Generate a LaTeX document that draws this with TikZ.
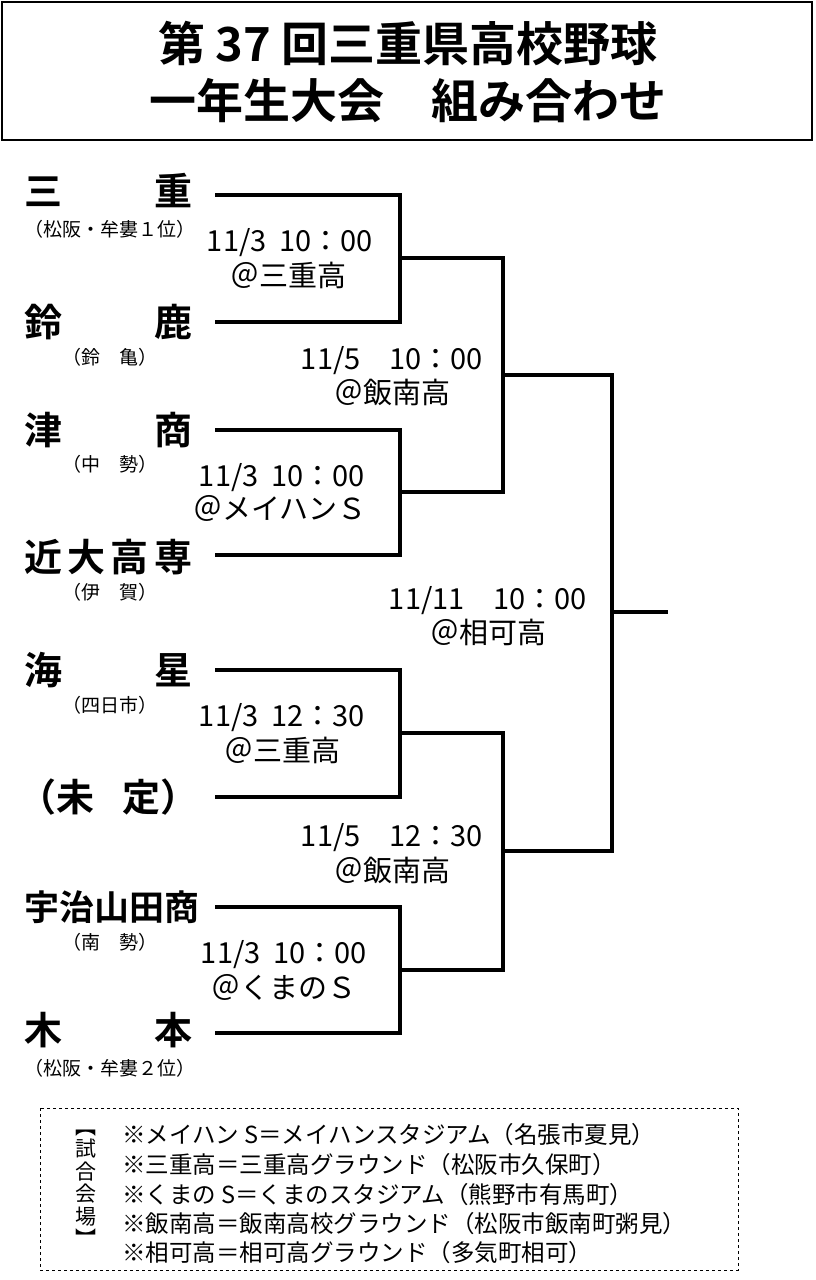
\documentclass[tikz,border=0pt]{standalone}
\usepackage{fontspec}
\setmainfont{Noto Sans CJK JP}[BoldFont={* Bold}]
\usetikzlibrary{positioning}
\usetikzlibrary{calc}
\tikzset{%
  team/.style = {anchor=west,inner sep=0pt,font=\bfseries\fontsize{38}{40}\selectfont},
  area/.style = {inner sep=0pt,font=\fontsize{19}{22}\selectfont},
  game/.style = {inner sep=0pt,font=\fontsize{29}{30}\selectfont},
  note/.style = {anchor=west,inner sep=0pt,font=\fontsize{23.5}{24}\selectfont},
  br/.style = {line width=3.5pt}
}
\newcommand{\spread}[2]{\makebox[168pt][s]{#1\hfill #2}}
\begin{document}
\begin{tikzpicture}[x=1pt,y=-1pt]
  \useasboundingbox (0,0) rectangle (816,1280);
  % title
  \draw[line width=1.2pt] (2,2) rectangle (812,140);
  \node[font=\bfseries\fontsize{47}{50}\selectfont] (t1) at (408,44) {第 37 回三重県高校野球};
  \node[font=\bfseries\fontsize{47}{50}\selectfont] (t2) at (408,101) {一年生大会　組み合わせ};
  % teams
  \node[team] (a) at (24,191) {\spread{三}{重}};
  \node[area] (aa) at (110,229) {（松阪・牟婁１位）};
  \node[team] (b) at (24,322) {\spread{鈴}{鹿}};
  \node[area] (bb) at (110,357) {（鈴　亀）};
  \node[team] (c) at (24,430) {\spread{津}{商}};
  \node[area] (cc) at (110,464) {（中　勢）};
  \node[team] (d) at (24,557) {\makebox[168pt][s]{近\hfill 大\hfill 高\hfill 専}};
  \node[area] (dd) at (110,592) {（伊　賀）};
  \node[team] (e) at (24,670) {\spread{海}{星}};
  \node[area] (ee) at (110,705) {（四日市）};
  \node[team] (f) at (18,797) {\makebox[180pt][s]{（未\hfill 定）}};
  \node[team,font=\bfseries\fontsize{35}{40}\selectfont] (g) at (24,907) {宇治山田商};
  \node[area] (gg) at (110,942) {（南　勢）};
  \node[team] (h) at (24,1030) {\spread{木}{本}};
  \node[area] (hh) at (110,1068) {（松阪・牟婁２位）};
  % bracket
  \coordinate (w1) at (400,258); \coordinate (w2) at (400,492);
  \coordinate (w3) at (400,733); \coordinate (w4) at (400,970);
  \coordinate (s1) at (503,375); \coordinate (s2) at (503,851);
  \coordinate (fin) at (612,612);
  \draw[br] (215,195) -| (w1) |- (215,322);
  \draw[br] (215,430) -| (w2) |- (215,555);
  \draw[br] (215,670) -| (w3) |- (215,797);
  \draw[br] (215,907) -| (w4) |- (215,1033);
  \draw[br] (w1) -| (s1) |- (w2);
  \draw[br] (w3) -| (s2) |- (w4);
  \draw[br] (s1) -| (fin) |- (s2);
  \draw[br] (fin) -- (668,612);
  % games
  \node[game] (g1) at (290,243) {11/3\ \ 10：00};
  \node[game] (g1p) at (288,275) {＠三重高};
  \node[game] (g2) at (282,478) {11/3\ \ 10：00};
  \node[game] (g2p) at (280,508) {＠メイハンＳ};
  \node[game] (g3) at (282,718) {11/3\ \ 12：30};
  \node[game] (g3p) at (282,750) {＠三重高};
  \node[game] (g4) at (284,955) {11/3\ \ 10：00};
  \node[game] (g4p) at (284,987) {＠くまのＳ};
  \node[game] (g5) at (392,361) {11/5\quad 10：00};
  \node[game] (g5p) at (392,392) {＠飯南高};
  \node[game] (g6) at (392,838) {11/5\quad 12：30};
  \node[game] (g6p) at (392,870) {＠飯南高};
  \node[game] (g7) at (488,601) {11/11\quad 10：00};
  \node[game] (g7p) at (488,632) {＠相可高};
  % venues
  \draw[dashed,line width=1pt] (40,1108) rectangle (738,1270);
  \node[inner sep=0pt,font=\fontsize{21}{22.5}\selectfont,align=center] (v) at (86,1188)
    {︻\\試\\合\\会\\場\\︼};
  \node[note] (n1) at (122,1135) {※メイハン S＝メイハンスタジアム（名張市夏見）};
  \node[note] (n2) at (122,1165) {※三重高＝三重高グラウンド（松阪市久保町）};
  \node[note] (n3) at (122,1195) {※くまの S＝くまのスタジアム（熊野市有馬町）};
  \node[note] (n4) at (122,1224) {※飯南高＝飯南高校グラウンド（松阪市飯南町粥見）};
  \node[note] (n5) at (122,1253) {※相可高＝相可高グラウンド（多気町相可）};
\end{tikzpicture}
\end{document}
